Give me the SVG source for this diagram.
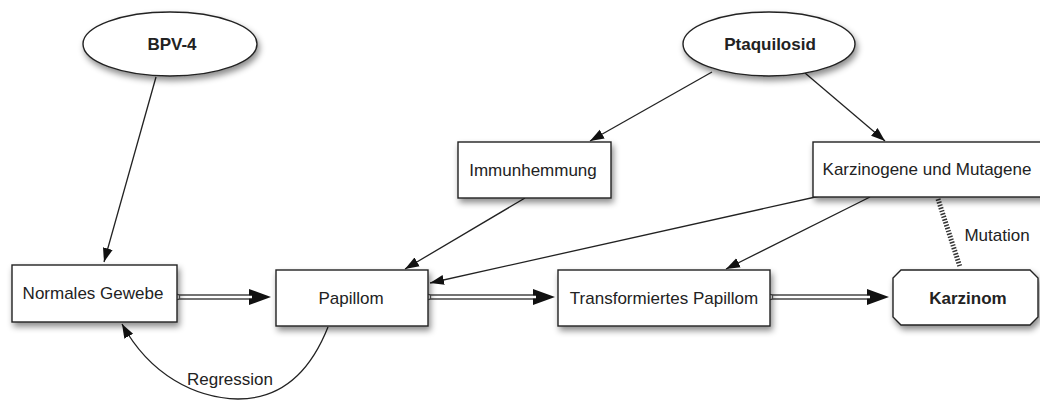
<svg xmlns="http://www.w3.org/2000/svg" width="1040" height="401" viewBox="0 0 1040 401">
<defs>
<style>
.node{fill:#fff;stroke:#222;stroke-width:1.4;filter:url(#sh)}
.t{font-family:"Liberation Sans",Arial,sans-serif;font-size:17px;fill:#222;text-anchor:middle;dominant-baseline:central}
.b{font-weight:bold}
.thin{fill:none;stroke:#222;stroke-width:1.3;marker-end:url(#ah)}
.dbl{fill:none;stroke:#444;stroke-width:5.5;marker-end:url(#big)}
.dbli{fill:none;stroke:#fff;stroke-width:2.5}
</style>
<filter id="sh" x="-20%" y="-30%" width="140%" height="170%">
<feDropShadow dx="2" dy="4" stdDeviation="3" flood-color="#000" flood-opacity="0.45"/>
</filter>
<marker id="ah" markerUnits="userSpaceOnUse" markerWidth="16" markerHeight="12" refX="14" refY="5" orient="auto" viewBox="0 0 16 10">
<path d="M0,0 L14,5 L0,10 Z" fill="#111"/>
</marker>
<marker id="big" markerUnits="userSpaceOnUse" markerWidth="24" markerHeight="18" refX="1" refY="8" orient="auto" viewBox="0 0 24 16">
<path d="M0,0 L22,8 L0,16 Z" fill="#111"/>
</marker>
</defs>

<g id="connectors">
<path class="thin" d="M156,77 L104,262"/>
<path class="thin" d="M712,72 L590,141"/>
<path class="thin" d="M805,73 L885,141"/>
<path class="thin" d="M525,198 L405,269"/>
<path class="thin" d="M820,196 L430,283"/>
<path class="thin" d="M870,197 L726,269"/>
<path class="thin" d="M328,327 C305,385 270,399 238,399 C195,398 150,375 122,324"/>
<path d="M938,199 L960,267" fill="none" stroke="#333" stroke-width="5" stroke-dasharray="1.5 1.5"/>
<g>
<path class="dbl" d="M177,297 L250,297"/>
<path class="dbli" d="M178,297 L252,297"/>
<circle cx="177" cy="297" r="2.8" fill="#fff" stroke="#444" stroke-width="1"/>
<path class="dbl" d="M428,297 L534,297"/>
<path class="dbli" d="M429,297 L536,297"/>
<circle cx="428" cy="297" r="2.8" fill="#fff" stroke="#444" stroke-width="1"/>
<path class="dbl" d="M770,297 L868,297"/>
<path class="dbli" d="M771,297 L870,297"/>
<circle cx="770" cy="297" r="2.8" fill="#fff" stroke="#444" stroke-width="1"/>
</g>
<text class="t" x="230" y="379">Regression</text>
<text class="t" x="997" y="235" font-size="15">Mutation</text>
</g>

<g id="bpv4">
<ellipse class="node" cx="170" cy="44" rx="87" ry="32"/>
<text class="t b" x="172" y="44" font-size="16">BPV-4</text>
</g>
<g id="ptaquilosid">
<ellipse class="node" cx="769" cy="44" rx="86" ry="32"/>
<text class="t b" x="770" y="44" font-size="16">Ptaquilosid</text>
</g>
<g id="immunhemmung">
<rect class="node" x="458" y="142" width="153" height="56"/>
<text class="t" x="533" y="170">Immunhemmung</text>
</g>
<g id="karzinogene">
<rect class="node" x="813" y="142" width="240" height="55"/>
<text class="t" x="927" y="169">Karzinogene und Mutagene</text>
</g>
<g id="normales">
<rect class="node" x="12" y="265" width="165" height="57"/>
<text class="t" x="93" y="293">Normales Gewebe</text>
</g>
<g id="papillom">
<rect class="node" x="276" y="270" width="152" height="56"/>
<text class="t" x="351" y="298">Papillom</text>
</g>
<g id="transformiert">
<rect class="node" x="558" y="270" width="212" height="56"/>
<text class="t" x="664" y="298">Transformiertes Papillom</text>
</g>
<g id="karzinom">
<path class="node" d="M901,270 L1030,270 L1038,278 L1038,317 L1030,325 L901,325 L893,317 L893,278 Z"/>
<text class="t b" x="968" y="298">Karzinom</text>
</g>
</svg>
